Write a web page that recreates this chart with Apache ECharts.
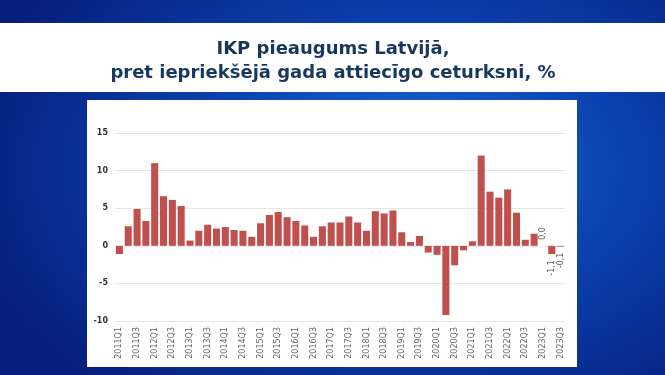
<!DOCTYPE html>
<html>
<head>
<meta charset="utf-8">
<script src="https://cdn.jsdelivr.net/npm/echarts@6/dist/echarts.min.js"></script>
<style>
  html, body { margin: 0; padding: 0; }
  #chart {
    width: 665px; height: 375px;
    background: radial-gradient(ellipse 70% 80% at 62% 45%, #1e6fd6 0%, #0b42b0 45%, #071d7a 100%);
  }
</style>
</head>
<body>
<div id="chart"></div>
<script>
// ceturkšņi 2011Q1 .. 2023Q3
var quarters = [];
for (var y = 2011; y <= 2023; y++) {
  for (var q = 1; q <= 4; q++) {
    if (y === 2023 && q > 3) break;
    quarters.push(y + 'Q' + q);
  }
}

var growth = [
  -1.1, 2.6, 4.9, 3.3,
  11.0, 6.6, 6.1, 5.3,
  0.7, 2.0, 2.8, 2.3,
  2.5, 2.1, 2.0, 1.2,
  3.0, 4.1, 4.5, 3.8,
  3.3, 2.7, 1.2, 2.6,
  3.1, 3.1, 3.9, 3.1,
  2.0, 4.6, 4.3, 4.7,
  1.8, 0.5, 1.3, -0.9,
  -1.2, -9.2, -2.6, -0.6,
  0.6, 12.0, 7.2, 6.4,
  7.5, 4.4, 0.8, 1.6,
  0.0, -1.1, -0.1
];

var titleLines = ['IKP pieaugums Latvijā,', 'pret iepriekšējā gada attiecīgo ceturksni, %'];

var labelled = 3; // pēdējiem trim stabiņiem ir vērtības

var myChart = echarts.init(document.getElementById('chart'));

var data = growth.map(function (v, i) {
  var item = { value: v };
  if (i >= growth.length - labelled) {
    var neg = v < 0;
    item.label = {
      show: true,
      rotate: 90,
      position: neg ? 'bottom' : 'top',
      align: neg ? 'right' : 'left',
      verticalAlign: 'middle',
      distance: 6,
      fontSize: 8,
      color: '#555',
      fontFamily: 'DejaVu Sans',
      formatter: function (p) { return p.value.toFixed(1).replace('.', ','); }
    };
  }
  return item;
});

var option = {
  animation: false,
  graphic: [
    { type: 'rect', z: -1, shape: { x: 0, y: 23, width: 665, height: 69 }, style: { fill: '#ffffff' } },
    { type: 'rect', z: -1, shape: { x: 87, y: 100, width: 490, height: 267 }, style: { fill: '#ffffff' } },
    {
      type: 'text', x: 333, y: 37,
      style: {
        text: titleLines.join('\n'),
        align: 'center',
        verticalAlign: 'top',
        fill: '#17375e',
        font: 'bold 18px "DejaVu Sans"',
        lineHeight: 24
      }
    }
  ],
  grid: { left: 115, right: 100, top: 133, bottom: 54 },
  xAxis: {
    type: 'category',
    data: quarters,
    axisLine: { show: false },
    axisTick: { show: false },
    axisLabel: {
      interval: 1,
      rotate: 90,
      fontSize: 8,
      color: '#666',
      fontFamily: 'DejaVu Sans',
      margin: 6
    }
  },
  yAxis: {
    type: 'value',
    min: -10,
    max: 15,
    interval: 5,
    axisLine: { show: false },
    axisTick: { show: false },
    axisLabel: {
      fontSize: 8,
      fontWeight: 'bold',
      color: '#333',
      fontFamily: 'DejaVu Sans',
      margin: 7
    },
    splitLine: { lineStyle: { color: '#e6e6e6' } }
  },
  series: [{
    type: 'bar',
    data: data,
    barCategoryGap: '20%',
    itemStyle: { color: '#c0504d' }
  }]
};

myChart.setOption(option);
</script>
</body>
</html>
